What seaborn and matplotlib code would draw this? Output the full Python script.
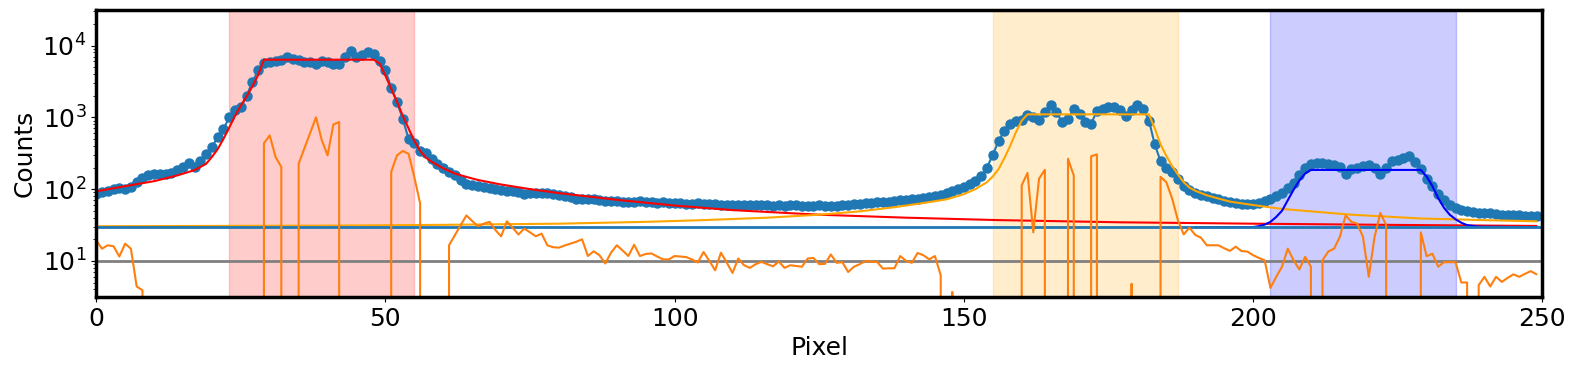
import numpy as np
import matplotlib
matplotlib.use("Agg")
import matplotlib.pyplot as plt
import seaborn as sns

# measured counts per detector pixel
pixel = np.arange(250)
counts = [
    86, 90, 93, 99, 103, 100, 107, 126, 145, 155,
    164, 160, 163, 167, 182, 204, 230, 204, 245, 305,
    385, 530, 690, 1000, 1250, 1390, 2000, 3100, 4500, 5700,
    5900, 6000, 6200, 6900, 6500, 6200, 5900, 5900, 5500, 6100,
    5900, 5450, 5450, 7000, 8300, 7000, 7500, 8000, 7600, 6100,
    4500, 2600, 1620, 950, 500, 435, 345, 315, 265, 226,
    195, 173, 156, 135, 119, 115, 112, 108, 105, 100,
    97, 94, 95, 90, 86, 87, 89, 88, 89, 86,
    84, 80, 77, 74, 72, 74, 72, 71, 69, 68,
    69, 67, 66, 67, 68, 66, 66, 65, 66, 65,
    64, 64, 63, 63, 64, 62, 62, 63, 61, 60,
    61, 61, 60, 60, 61, 60, 60, 59, 60, 59,
    60, 60, 59, 58, 59, 60, 59, 58, 59, 60,
    61, 62, 62, 64, 65, 66, 66, 67, 69, 70,
    71, 72, 74, 76, 78, 80, 84, 88, 93, 100,
    108, 118, 130, 150, 200, 300, 470, 650, 800, 880,
    910, 1070, 1000, 905, 1180, 1465, 1180, 855, 955, 1320,
    1120, 855, 815, 1220, 1320, 1380, 1380, 1260, 1060, 1260,
    1465, 1320, 900, 420, 245, 200, 175, 140, 112, 97,
    88, 84, 79, 76, 72, 69, 67, 64, 63, 62,
    62, 64, 68, 73, 79, 88, 105, 122, 155, 200,
    222, 232, 228, 222, 215, 205, 165, 190, 200, 210,
    215, 200, 164, 200, 245, 255, 268, 286, 240, 190,
    140, 110, 85, 70, 60, 54, 51, 49, 48, 47,
    46, 46, 45, 44, 44, 43, 43, 42, 42, 42,
]

# residual curve (0 = below the plotted range)
residual = [
    19.4, 14.8, 16.5, 16, 11.5, 17.4, 14.8, 4.4, 3.9, 0,
    0, 0, 0, 0, 0, 0, 0, 0, 0, 0,
    0, 0, 0, 0, 0, 0, 0, 0, 0, 436,
    560, 280, 204, 0, 0, 226, 370, 610, 1000, 480,
    295, 795, 860, 0, 0, 0, 0, 0, 0, 0,
    0, 174, 295, 340, 310, 147, 63, 0, 0, 0,
    0, 16.5, 22.8, 31.4, 43, 36, 30.4, 33, 35, 27,
    22, 35.6, 29, 23.3, 28.2, 25, 22, 24, 16.5, 15.5,
    15.3, 16.4, 17.4, 18.5, 20, 11.7, 13.6, 12, 9.2, 13,
    16.5, 14, 11.7, 16.8, 11.7, 12.5, 12.7, 11.5, 10.5, 10.5,
    11.7, 11.5, 11.3, 10.5, 9.5, 13.3, 10, 7.4, 13, 9.5,
    6.8, 10.8, 8.7, 8, 9, 9.7, 9, 8.4, 9.8, 8,
    8.7, 8.5, 8.3, 10.8, 11, 9, 9.1, 12.3, 9.4, 9.6,
    7, 8.3, 9, 10, 9.7, 9.7, 7.8, 7.9, 7.9, 11.7,
    10, 9.4, 12.9, 12, 10.5, 11.7, 6.3, 0, 3.7, 0,
    0, 0, 0, 0, 0, 0, 0, 0, 0, 0,
    113, 168, 25, 140, 186, 0, 0, 0, 265, 155,
    0, 0, 286, 305, 0, 0, 0, 0, 0, 4.8,
    0, 0, 0, 0, 148, 125, 74, 37, 23.4, 29,
    23, 21, 16.5, 16.5, 16.5, 15, 13.8, 15.8, 13.7, 13.5,
    12, 11, 10.2, 4.2, 6, 8.3, 14.8, 10.2, 7.6, 11.4,
    8.3, 0, 10.2, 13.5, 14.8, 21.6, 43, 35, 33, 21.6,
    6, 21.6, 46.5, 31.7, 0, 0, 0, 0, 0, 25,
    11.6, 12.6, 8.3, 9.6, 9.6, 9.6, 5, 5, 0, 4.6,
    6, 4.4, 6, 5.1, 5.8, 6.5, 6, 6.6, 7.2, 6.5,
]

# fitted peak models
red_x = [0, 5, 10, 14, 17, 19, 20, 21, 22, 23, 24, 25, 26, 27, 28, 29, 48, 49, 50,
         51, 52, 53, 54, 55, 56, 57, 58, 60, 62, 64, 66, 70, 75, 80, 90, 100, 110,
         125, 140, 156, 177, 200, 225, 249]
red_y = [93, 110, 129, 155, 184, 225, 280, 360, 500, 720, 1050, 1450, 1950, 2700, 3900,
         6350, 6350, 5600, 3800, 2500, 1650, 1050, 700, 470, 340, 275, 240, 195, 165,
         148, 134, 116, 100, 88, 71, 59, 51, 44, 40, 37, 34.5, 33, 31.7, 30.7]

orange_x = [0, 40, 60, 80, 95, 105, 116, 125, 132, 138, 143, 147, 150, 152, 154, 155,
            156, 157, 158, 159, 160, 161, 182, 183, 184, 185, 186, 187, 188, 189, 190,
            192, 194, 196, 200, 205, 210, 217, 229, 240, 249]
orange_y = [30.4, 31, 31.8, 33, 35, 37, 40, 44, 49, 56, 64, 72, 85, 100, 125, 150,
            190, 270, 400, 620, 900, 1100, 1100, 700, 420, 290, 210, 160, 125, 105, 95,
            82, 74, 67, 60, 53, 49, 44, 39, 37, 35.6]

blue_x = [190, 200, 201, 202, 203, 204, 205, 206, 207, 208, 209, 210, 229, 230, 231,
          232, 233, 234, 235, 236, 237, 239, 249]
blue_y = [29.4, 29.6, 30.5, 32, 35, 41, 50, 70, 98, 132, 165, 185, 185, 150, 110,
          75, 55, 44, 38, 34, 31.5, 30, 29.4]

background = 29.2
threshold = 10
regions = [(23, 55), (155, 187), (203, 235)]
region_colors = ["red", "orange", "blue"]

sns.set_style("ticks", {"axes.edgecolor": "black", "xtick.color": "black",
                        "ytick.color": "black", "text.color": "black",
                        "axes.labelcolor": "black"})
plt.rcParams["font.family"] = ["DejaVu Sans"]
plt.rcParams["font.size"] = 18

fig, ax = plt.subplots(figsize=(15.77, 3.71), dpi=100)
fig.subplots_adjust(left=0.061, right=0.978, bottom=0.200, top=0.974)

for (lo, hi), c in zip(regions, region_colors):
    ax.axvspan(lo, hi, color=c, alpha=0.2)

sns.lineplot(x=pixel, y=counts, marker="o", markersize=6.5, color="#1f77b4",
             linewidth=1.5, markeredgecolor="#1f77b4", markeredgewidth=1,
             errorbar=None, ax=ax)
sns.lineplot(x=red_x, y=red_y, color="red", linewidth=1.5, errorbar=None, ax=ax)
sns.lineplot(x=orange_x, y=orange_y, color="orange", linewidth=1.5, errorbar=None, ax=ax)
sns.lineplot(x=blue_x, y=blue_y, color="blue", linewidth=1.5, errorbar=None, ax=ax)
ax.axhline(background, color="#1f77b4", linewidth=2)
ax.axhline(threshold, color="gray", linewidth=2)
sns.lineplot(x=pixel, y=residual, color="#ff7f0e", linewidth=1.5, errorbar=None, ax=ax)

ax.set_yscale("log")
ax.set_ylim(10 ** 0.5, 10 ** 4.5)
ax.set_xlim(0, 250)
ax.set_xlabel("Pixel", fontsize=18)
ax.set_ylabel("Counts", fontsize=18)
ax.tick_params(labelsize=18)
for s in ax.spines.values():
    s.set_linewidth(2.5)

fig.savefig("out.png", dpi=100)
